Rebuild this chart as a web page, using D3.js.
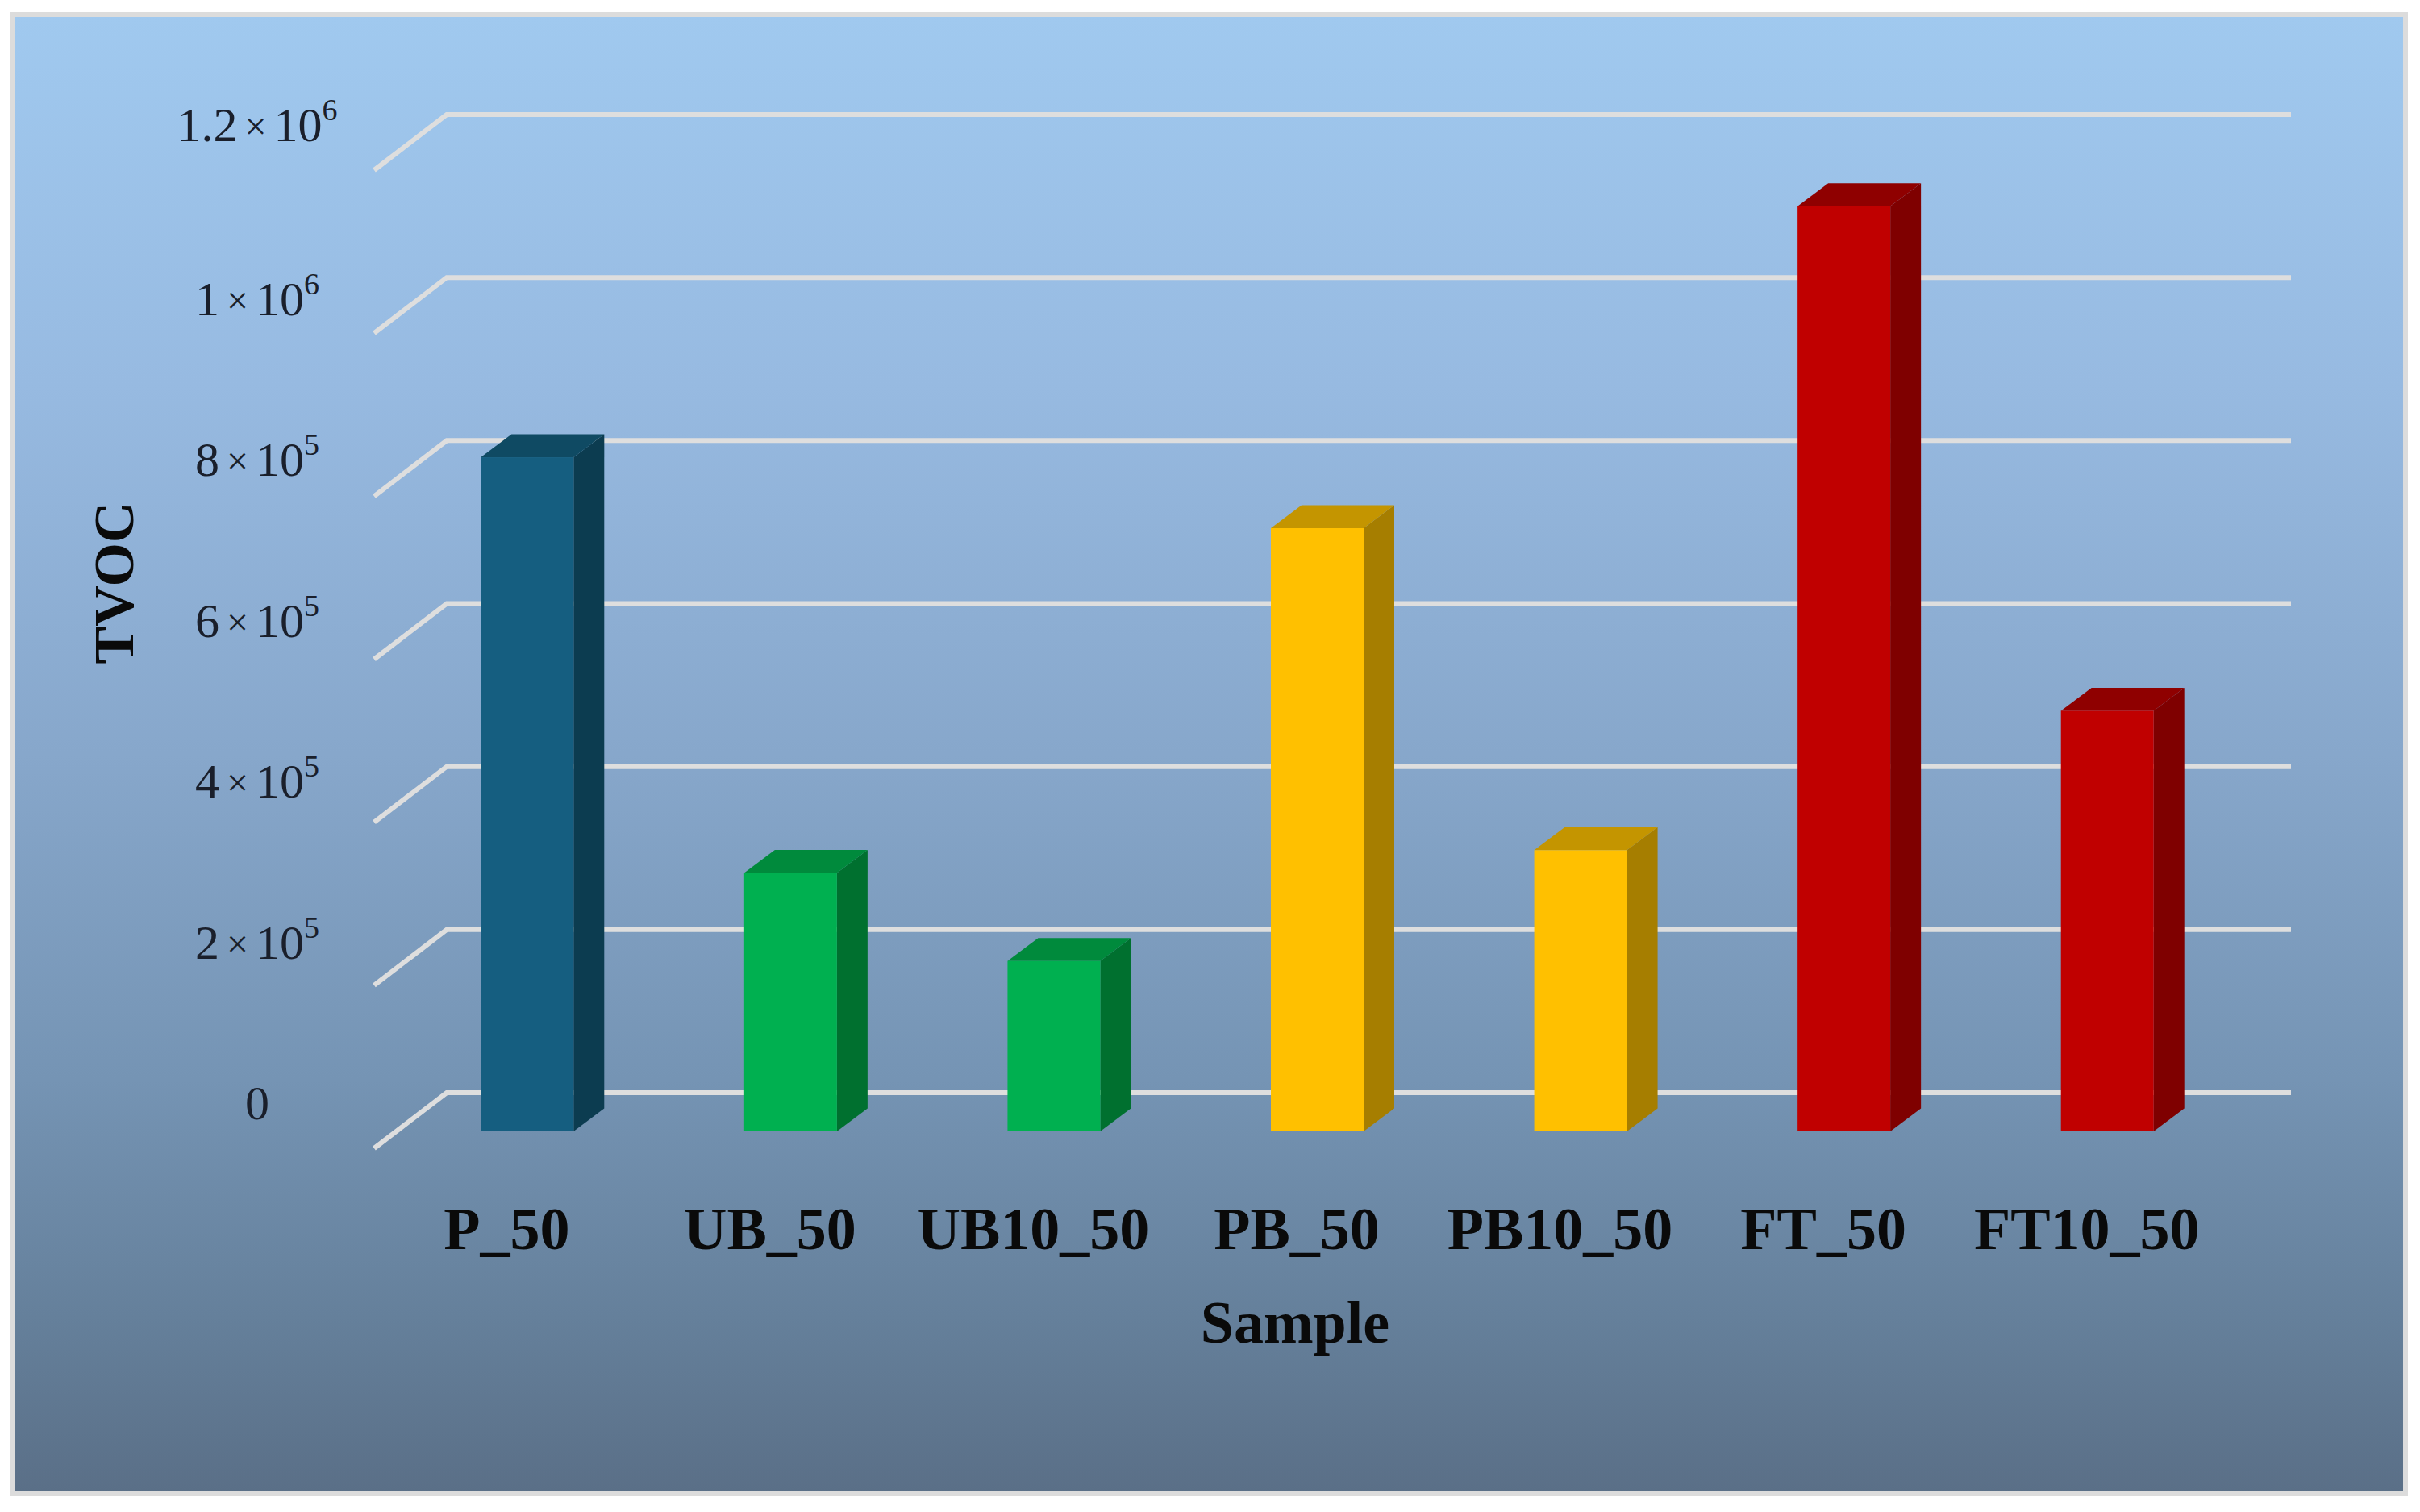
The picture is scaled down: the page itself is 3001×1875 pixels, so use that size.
<!DOCTYPE html>
<html>
<head>
<meta charset="utf-8">
<script src="https://cdnjs.cloudflare.com/ajax/libs/d3/7.8.5/d3.min.js"></script>
<style>html,body{margin:0;padding:0;background:#fff}svg{display:block}</style>
</head>
<body>
<script>
const categories = ["P_50","UB_50","UB10_50","PB_50","PB10_50","FT_50","FT10_50"];
const values = [827000,317000,209000,740000,345000,1135000,516000];
const faceColors = ["#155e80","#00b050","#00b050","#ffc000","#ffc000","#c00000","#c00000"];
const sideColors = ["#0c3c50","#00702f","#00702f","#a67e00","#a67e00","#7f0000","#7f0000"];
const topColors  = ["#0f4a63","#008a3c","#008a3c","#c49500","#c49500","#8f0000","#8f0000"];
const yTicks = [0,200000,400000,600000,800000,1000000,1200000];
const tickMantissa = ["0","2","4","6","8","1","1.2"];
const tickExponent = ["","5","5","5","5","6","6"];
const xTitle = "Sample", yTitle = "TVOC";

const W = 3001, H = 1875;
const svg = d3.select("body").append("svg").attr("width",W).attr("height",H).attr("viewBox",`0 0 ${W} ${H}`);
const serif = "'Liberation Serif','Times New Roman',serif";

const defs = svg.append("defs");
const grad = defs.append("linearGradient").attr("id","bg").attr("x1",0).attr("x2",0).attr("y1",0).attr("y2",1);
[[0,"#a0c9ef"],[0.25,"#97bae1"],[0.5,"#87a7cb"],[0.72,"#7594b4"],[0.88,"#65809b"],[1,"#5a6f87"]]
  .forEach(([o,c])=>grad.append("stop").attr("offset",o).attr("stop-color",c));

svg.append("rect").attr("x",16).attr("y",18).attr("width",2967).attr("height",1834)
  .attr("fill","url(#bg)").attr("stroke","#dcdcdc").attr("stroke-width",6);

// scales: h gives height in pixels above a plane's floor
const x = d3.scaleBand().domain(categories).range([465,2751]);
const h = d3.scaleLinear().domain([0,1200000]).range([0,1213]);
const labelY = d3.scaleLinear().domain([0,800000]).range([1388,590]);

// walls
const backFloor = 1355, frontFloor = 1424, wallDx = 90, barFloor = 1403;
const grid = svg.append("g");
grid.selectAll("path").data(yTicks).join("path")
  .attr("d", v => `M${x.range()[0]-1},${frontFloor-h(v)}L${x.range()[0]+wallDx-1},${backFloor-h(v)}H${x.range()[1]+wallDx}`)
  .attr("fill","none").attr("stroke","#dedede").attr("stroke-width",6);

// bars
const barW = 115, barDx = 38, barDy = 28.5, barShift = -32;
const bars = svg.append("g").selectAll("g").data(categories).join("g");
const left = c => x(c) + x.bandwidth()/2 + barShift;
const val = (c) => h(values[categories.indexOf(c)]);
bars.append("polygon").attr("fill",(c,i)=>sideColors[i]).attr("points", c => {
  const l = left(c)+barW, t = barFloor-val(c);
  return [[l,t],[l+barDx,t-barDy],[l+barDx,barFloor-barDy],[l,barFloor]].join(" ");
});
bars.append("polygon").attr("fill",(c,i)=>topColors[i]).attr("points", c => {
  const l = left(c), t = barFloor-val(c);
  return [[l,t],[l+barDx,t-barDy],[l+barW+barDx,t-barDy],[l+barW,t]].join(" ");
});
bars.append("rect").attr("fill",(c,i)=>faceColors[i])
  .attr("x",left).attr("y",c=>barFloor-val(c)).attr("width",barW).attr("height",val);

// category axis
const xAxis = svg.append("g").attr("transform","translate(0,1549)")
  .call(d3.axisBottom(x).tickSize(0).tickPadding(0));
xAxis.select(".domain").remove();
xAxis.selectAll("text").attr("dy",0).attr("y",0)
  .attr("font-family",serif).attr("font-weight","bold").attr("font-size",74).attr("fill","#0a0a0a");

// value labels
const tickG = svg.append("g");
yTicks.forEach((v,i)=>{
  const t = tickG.append("text").attr("x",319).attr("y",labelY(v)-(v===1200000?16:0))
    .attr("text-anchor","middle").attr("font-family",serif).attr("font-size",60).attr("fill","#1a1f2b");
  if(tickExponent[i]==="") { t.text(tickMantissa[i]); return; }
  t.append("tspan").text(tickMantissa[i]);
  t.append("tspan").attr("font-size",48).attr("dx",9).attr("dy",-2).text("×");
  t.append("tspan").attr("font-size",60).attr("dx",9).attr("dy",2).text("10");
  t.append("tspan").attr("font-size",38).attr("dy",-26).text(tickExponent[i]);
});

// titles
svg.append("text").attr("x",1606).attr("y",1665).attr("text-anchor","middle")
  .attr("font-family",serif).attr("font-weight","bold").attr("font-size",74).attr("fill","#0a0a0a").text(xTitle);
svg.append("text").attr("transform","translate(165,723) rotate(-90)").attr("text-anchor","middle")
  .attr("font-family",serif).attr("font-weight","bold").attr("font-size",70).attr("fill","#0a0a0a").text(yTitle);
</script>
</body>
</html>
